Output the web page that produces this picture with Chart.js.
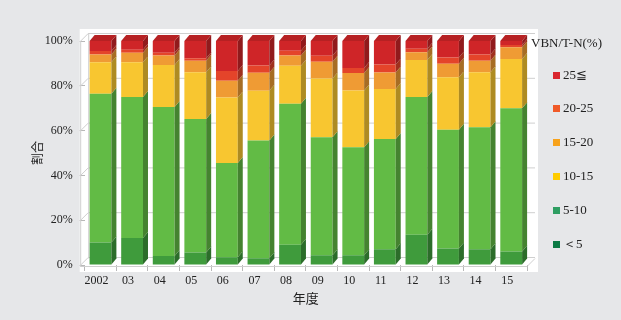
<!DOCTYPE html>
<html>
<head>
<meta charset="utf-8">
<script src="https://cdn.jsdelivr.net/npm/chart.js@4/dist/chart.umd.min.js"></script>
<style>
  html, body { margin: 0; padding: 0; background: #e6e7e9; }
  #wrap { position: relative; width: 621px; height: 320px; overflow: hidden; background: #e6e7e9; }
  #chart { position: absolute; left: 0; top: 0; }
  #legend { position: absolute; left: 0; top: 0; width: 621px; height: 320px; pointer-events: none;
            font-family: "Liberation Serif", "Times New Roman", serif; font-size: 13px; color: #222; }
  #legend .title { position: absolute; left: 531px; top: 34px; line-height: 18px; white-space: nowrap; }
  #legend .item { position: absolute; left: 553px; height: 18px; line-height: 18px; white-space: nowrap; }
  #legend .box { position: absolute; left: 0; top: 6px; width: 7px; height: 7px; }
  #legend .txt { position: absolute; left: 10px; top: 0; }
</style>
</head>
<body>
<div id="wrap">
  <canvas id="chart" width="621" height="320"></canvas>
  <div id="legend"></div>
</div>
<script>
// Survey years
const years = ['2002', '03', '04', '05', '06', '07', '08', '09', '10', '11', '12', '13', '14', '15'];

// Share (%) of samples in each VBN/T-N band, per year
const lt5   = [10, 12, 4, 5.6, 3.5, 3, 9, 4.4, 4.4, 7, 13.5, 7.4, 7, 6];
const r5_10 = [66.5, 63, 66.5, 59.6, 42, 52.6, 63, 52.6, 48.2, 49.3, 61.5, 53, 54.5, 64];
const r10_15 = [14, 15.5, 18.8, 20.8, 29.3, 22.2, 17, 26.3, 25.3, 22.3, 16.5, 23.4, 24.6, 22];
const r15_20 = [3.5, 4.2, 4.2, 5.2, 7.4, 8, 4.5, 7.4, 7.8, 7.3, 3.5, 6, 5.1, 5.2];
const r20_25 = [1.5, 1.4, 1.2, 1.1, 4.4, 3.3, 2.2, 2.7, 2.2, 3.6, 1.5, 2.8, 2.8, 1];
const ge25  = [4.5, 3.9, 5.3, 7.7, 13.4, 10.9, 4.3, 6.6, 12.1, 10.5, 3.5, 7.4, 6, 1.8];

// Band names (bottom to top) and axis ticks
const bandLabels = ['＜5', '5-10', '10-15', '15-20', '20-25', '25≦'];
const yTicks = [0, 20, 40, 60, 80, 100];

const barColors = ['#3f9b3c', '#62bb45', '#f8c630', '#ef9b34', '#e4442a', '#cf2528'];
const keyColors = ['#0b7a44', '#2f9e62', '#ffcc00', '#f7a21b', '#f05a28', '#d9262e'];

const serif = "'Liberation Serif', 'Times New Roman', serif";
const cjk = "'Noto Sans CJK JP', 'Noto Sans', sans-serif";

function shade(hex, f) {
  const n = parseInt(hex.slice(1), 16);
  const r = (n >> 16) & 255, g = (n >> 8) & 255, b = n & 255;
  return `rgb(${Math.round(r * f)},${Math.round(g * f)},${Math.round(b * f)})`;
}

const DEPTH = { dx: 5, dy: 6 };   // bar extrusion
const WALL = 8;                   // back wall offset

// White plotting panel behind everything
const panel = {
  id: 'panel',
  beforeDraw(chart) {
    const { ctx, chartArea: ca } = chart;
    ctx.save();
    ctx.fillStyle = '#ffffff';
    ctx.fillRect(ca.left - 5, ca.top - 12, ca.right - ca.left + 16, ca.bottom - ca.top + 19);
    ctx.restore();
  }
};

// Back wall grid, left wall and floor edges
const walls = {
  id: 'walls',
  beforeDatasetsDraw(chart) {
    const { ctx, chartArea: ca, scales } = chart;
    const ys = scales.y;
    const x0 = ca.left - 4.5;
    ctx.save();
    ctx.strokeStyle = '#cfcfcf';
    ctx.lineWidth = 1;
    ctx.beginPath();
    ys.ticks.forEach(t => {
      const yy = ys.getPixelForValue(t.value) + 0.5;
      ctx.moveTo(x0, yy);
      ctx.lineTo(x0 + WALL, yy - WALL);
      ctx.lineTo(ca.right + WALL, yy - WALL);
    });
    const yb = ys.getPixelForValue(0) + 1.5;
    const yt = ys.getPixelForValue(100);
    ctx.moveTo(x0 + 0.5, yb);
    ctx.lineTo(x0 + 0.5, yt);
    ctx.moveTo(x0 + WALL + 0.5, yb - WALL);
    ctx.lineTo(x0 + WALL + 0.5, yt - WALL);
    ctx.moveTo(x0, yb);
    ctx.lineTo(ca.right, yb);
    ctx.lineTo(ca.right + WALL, yb - WALL);
    ctx.stroke();
    ctx.restore();
  }
};

// Side and top faces of each stacked bar
const bar3d = {
  id: 'bar3d',
  afterDatasetsDraw(chart) {
    const { ctx } = chart;
    const n = chart.data.datasets.length;
    const { dx, dy } = DEPTH;
    ctx.save();
    chart.data.datasets.forEach((ds, di) => {
      const meta = chart.getDatasetMeta(di);
      meta.data.forEach(el => {
        const { x, y, base, width } = el.getProps(['x', 'y', 'base', 'width'], true);
        const l = x - width / 2, r = x + width / 2;
        const top = Math.min(y, base), bot = Math.max(y, base);
        if (bot - top <= 0) return;
        ctx.fillStyle = shade(ds.backgroundColor, 0.7);
        ctx.beginPath();
        ctx.moveTo(r, bot);
        ctx.lineTo(r, top);
        ctx.lineTo(r + dx, top - dy);
        ctx.lineTo(r + dx, bot - dy);
        ctx.closePath();
        ctx.fill();
        if (di === n - 1) {
          ctx.fillStyle = shade(ds.backgroundColor, 0.88);
          ctx.beginPath();
          ctx.moveTo(l, top);
          ctx.lineTo(l + dx, top - dy);
          ctx.lineTo(r + dx, top - dy);
          ctx.lineTo(r, top);
          ctx.closePath();
          ctx.fill();
        }
      });
    });
    ctx.restore();
  }
};

const series = [lt5, r5_10, r10_15, r15_20, r20_25, ge25];

new Chart(document.getElementById('chart'), {
  type: 'bar',
  data: {
    labels: years,
    datasets: series.map((vals, i) => ({
      label: bandLabels[i],
      data: vals,
      backgroundColor: barColors[i],
      borderWidth: 0,
      categoryPercentage: 1,
      barPercentage: 0.69
    }))
  },
  options: {
    responsive: false,
    animation: false,
    devicePixelRatio: 1,
    layout: { padding: { top: 41, right: 94, bottom: 0, left: 0 } },
    plugins: { legend: { display: false }, tooltip: { enabled: false } },
    scales: {
      x: {
        stacked: true,
        afterFit(scale) { scale.height = 55; },
        grid: { drawOnChartArea: false, drawTicks: true, tickLength: 6, color: '#b8b8b8' },
        border: { display: false },
        ticks: { color: '#222', font: { family: serif, size: 12 }, padding: 3, labelOffset: -4, maxRotation: 0 },
        title: { display: true, text: '年度', color: '#222', font: { family: cjk, size: 13 }, padding: { top: 0, bottom: 14 } }
      },
      y: {
        stacked: true,
        min: 0,
        max: 100,
        afterFit(scale) { scale.width = 84.7; },
        afterBuildTicks(scale) { scale.ticks = yTicks.map(v => ({ value: v })); },
        grid: { drawOnChartArea: false, drawTicks: true, tickLength: 5, color: '#b8b8b8' },
        border: { display: false },
        ticks: { color: '#222', font: { family: serif, size: 12 }, padding: 7, callback: v => v + '%' },
        title: { display: true, text: '割合', color: '#222', font: { family: cjk, size: 12 }, padding: { top: 30, bottom: 0 } }
      }
    }
  },
  plugins: [panel, walls, bar3d]
});

// Key: heading plus bands from top band down
const legend = document.getElementById('legend');
const head = document.createElement('div');
head.className = 'title';
head.textContent = 'VBN/T-N(%)';
legend.appendChild(head);
for (let k = 0; k < bandLabels.length; k++) {
  const i = bandLabels.length - 1 - k;
  const item = document.createElement('div');
  item.className = 'item';
  item.style.top = (65.5 + k * 33.8) + 'px';
  const box = document.createElement('span');
  box.className = 'box';
  box.style.background = keyColors[i];
  const txt = document.createElement('span');
  txt.className = 'txt';
  txt.textContent = bandLabels[i];
  item.appendChild(box);
  item.appendChild(txt);
  legend.appendChild(item);
}
</script>
</body>
</html>
